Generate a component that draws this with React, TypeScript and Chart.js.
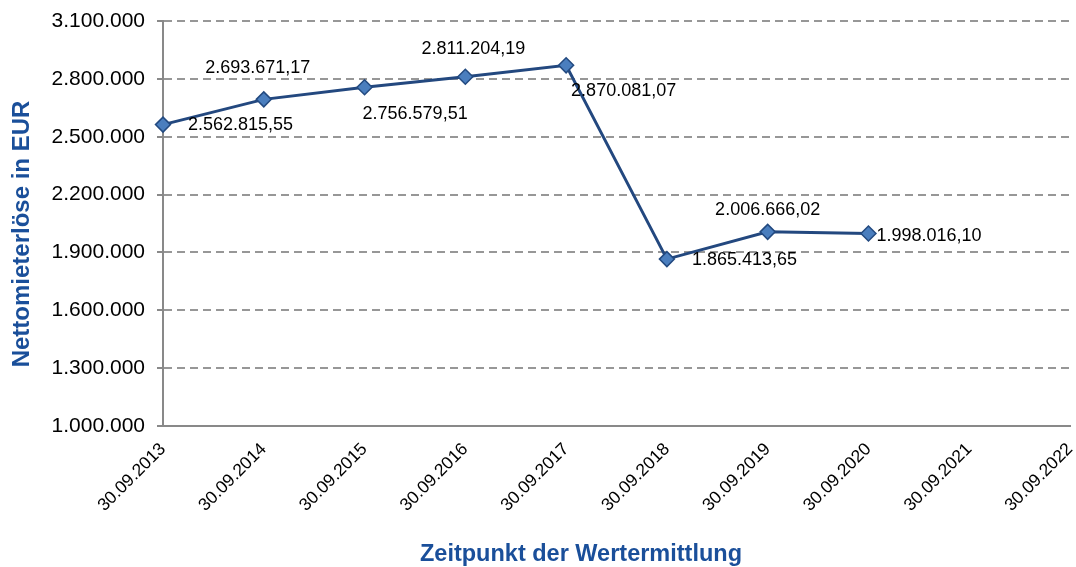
import React, { useEffect, useRef } from 'react';
import { Chart, registerables } from 'chart.js';

Chart.register(...registerables);

// ---- data ----
const categories = [
  '30.09.2013',
  '30.09.2014',
  '30.09.2015',
  '30.09.2016',
  '30.09.2017',
  '30.09.2018',
  '30.09.2019',
  '30.09.2020',
  '30.09.2021',
  '30.09.2022',
];
const values: (number | null)[] = [
  2562815.55,
  2693671.17,
  2756579.51,
  2811204.19,
  2870081.07,
  1865413.65,
  2006666.02,
  1998016.1,
  null,
  null,
];
const yTickValues = [1000000, 1300000, 1600000, 1900000, 2200000, 2500000, 2800000, 3100000];
const xAxisTitle = 'Zeitpunkt der Wertermittlung';
const yAxisTitle = 'Nettomieterlöse in EUR';

// ---- label placement (style, not data) ----
const labelPlacement: [CanvasTextAlign, number, number][] = [
  ['left', 25, 0],
  ['center', -6, -31],
  ['left', -2, 27],
  ['center', 8, -28],
  ['left', 5, 26],
  ['left', 25, 1],
  ['center', 0, -22],
  ['left', 8, 3],
];

const FONT = '"Liberation Sans", Arial, Helvetica, sans-serif';
const TITLE_BLUE = '#1A4F9A';
const AXIS_GRAY = '#898989';

function fmtThousands(n: number): string {
  return Math.round(n)
    .toString()
    .replace(/\B(?=(\d{3})+(?!\d))/g, '.');
}
function fmtEuro(n: number): string {
  const [i, d] = n.toFixed(2).split('.');
  return fmtThousands(Number(i)) + ',' + d;
}

const dataLabelPlugin = {
  id: 'dataLabels',
  afterDatasetsDraw(chart: any) {
    const ctx: CanvasRenderingContext2D = chart.ctx;
    const meta = chart.getDatasetMeta(0);
    ctx.save();
    ctx.font = `18px ${FONT}`;
    ctx.fillStyle = '#000000';
    ctx.textBaseline = 'middle';
    meta.data.forEach((pt: any, i: number) => {
      const v = values[i];
      if (v == null || !labelPlacement[i]) return;
      const [align, dx, dy] = labelPlacement[i];
      ctx.textAlign = align;
      ctx.fillText(fmtEuro(v), pt.x + dx, pt.y + dy);
    });
    ctx.restore();
  },
};

const axisTitlePlugin = {
  id: 'axisTitles',
  afterDraw(chart: any) {
    const ctx: CanvasRenderingContext2D = chart.ctx;
    ctx.save();
    ctx.fillStyle = TITLE_BLUE;
    ctx.textAlign = 'center';
    ctx.textBaseline = 'middle';
    ctx.font = `bold 23.5px ${FONT}`;
    ctx.fillText(xAxisTitle, 581, 555);
    ctx.translate(22.5, 234);
    ctx.rotate(-Math.PI / 2);
    ctx.font = `bold 24px ${FONT}`;
    ctx.fillText(yAxisTitle, 0, 0);
    ctx.restore();
  },
};

export default function App() {
  const canvasRef = useRef<HTMLCanvasElement | null>(null);

  useEffect(() => {
    document.body.style.margin = '0';
    const canvas = canvasRef.current;
    if (!canvas) return;
    const chart = new Chart(canvas, {
      type: 'line',
      data: {
        labels: categories,
        datasets: [
          {
            data: values,
            borderColor: '#23487F',
            borderWidth: 3,
            tension: 0,
            pointStyle: 'rectRot',
            pointRadius: 7.5,
            pointBackgroundColor: '#4A7EBE',
            pointBorderColor: '#234A80',
            pointBorderWidth: 1.5,
            spanGaps: false,
          },
        ],
      },
      options: {
        animation: false,
        responsive: true,
        maintainAspectRatio: false,
        layout: {
          autoPadding: false,
          padding: { top: 21, right: 6, bottom: 0, left: 0 },
        },
        plugins: {
          legend: { display: false },
          tooltip: { enabled: false },
          title: { display: false },
        },
        scales: {
          x: {
            offset: false,
            grid: { display: false, drawTicks: false },
            border: { display: true, color: AXIS_GRAY, width: 2 },
            ticks: {
              autoSkip: false,
              maxRotation: 45,
              minRotation: 45,
              padding: 13,
              color: '#000000',
              font: { family: FONT, size: 17.5 },
            },
            afterFit: (scale: any) => {
              scale.height = 141;
              scale.paddingLeft = 0;
              scale.paddingRight = 0;
            },
          },
          y: {
            min: yTickValues[0],
            max: yTickValues[yTickValues.length - 1],
            afterBuildTicks: (scale: any) => {
              scale.ticks = yTickValues.map((v) => ({ value: v }));
            },
            grid: {
              color: '#979797',
              lineWidth: 2,
              drawTicks: true,
              tickLength: 6,
              tickColor: AXIS_GRAY,
              tickWidth: 2,
              tickBorderDash: [],
            },
            border: { display: true, color: AXIS_GRAY, width: 2, dash: [8, 5] },
            ticks: {
              padding: 12,
              color: '#000000',
              font: { family: FONT, size: 21 },
              callback: (v: any) => fmtThousands(Number(v)),
            },
            afterFit: (scale: any) => {
              scale.width = 163;
              scale.paddingTop = 0;
              scale.paddingBottom = 0;
            },
          },
        },
      },
      plugins: [dataLabelPlugin, axisTitlePlugin],
    });
    return () => chart.destroy();
  }, []);

  return (
    <div style={{ position: 'relative', width: 1076, height: 567 }}>
      <canvas ref={canvasRef} />
    </div>
  );
}
